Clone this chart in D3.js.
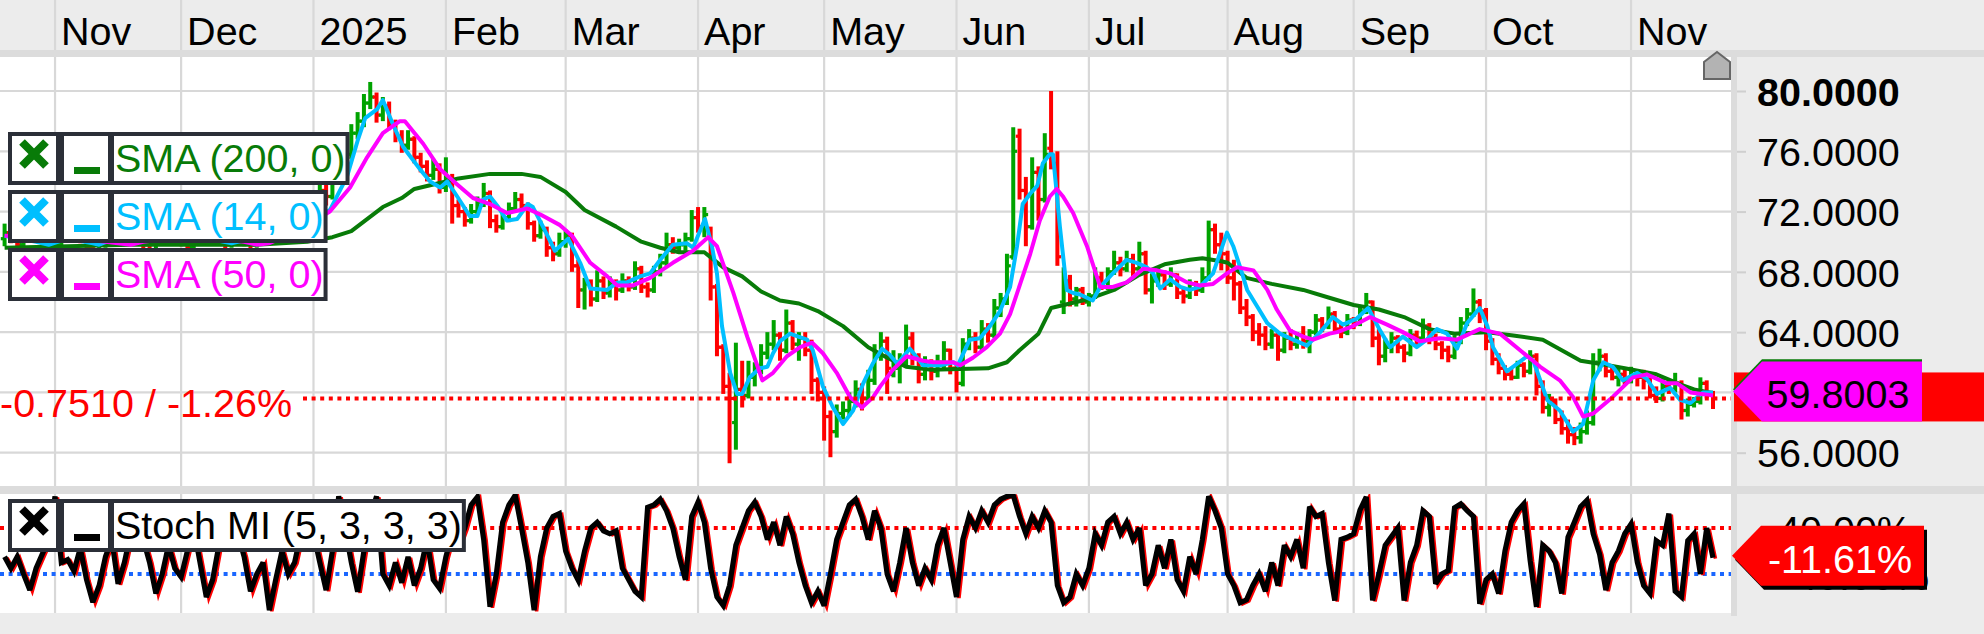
<!DOCTYPE html>
<html><head><meta charset="utf-8">
<script src="https://cdn.jsdelivr.net/npm/d3@7/dist/d3.min.js"></script>
<style>
html,body{margin:0;padding:0;background:#ececec;overflow:hidden;}
svg{display:block;font-family:"Liberation Sans",Arial,Helvetica,sans-serif;}
</style></head><body>
<svg id="c" width="1984" height="634"></svg>
<script>
// ---------- data ----------
const monthLabels = ["Nov","Dec","2025","Feb","Mar","Apr","May","Jun","Jul","Aug","Sep","Oct","Nov"];
const monthIndex  = [8,28,49,70,89,110,130,151,172,194,214,235,258];
const priceGrid   = [80,76,72,68,64,60,56];
const priceTicks  = [80,76,72,68,64,56];
const stochTicks  = [40,-40];
const stochTickLabels = ["40.00%","-40.00%"];

const open = [
70.2,70.6,70.2,69.8,70.4,71.0,70.6,70.0,69.4,69.8,
70.6,71.2,70.8,70.2,69.6,69.2,69.8,70.4,70.0,70.8,
71.4,71.0,70.4,69.8,69.4,70.0,70.6,71.2,70.6,70.0,
69.6,70.2,70.8,71.4,71.0,70.4,69.8,70.2,70.6,70.0,
69.8,70.4,71.0,70.6,70.2,70.6,70.8,71.2,71.0,72.0,
72.8,73.4,73.0,74.2,75.0,75.8,77.2,78.0,79.2,79.6,
78.4,79.0,77.8,77.0,76.4,76.8,75.6,75.0,74.4,74.8,
73.6,74.2,72.4,72.0,71.4,72.0,72.6,73.2,71.4,71.0,
71.6,72.2,72.8,72.4,71.2,70.4,70.8,69.6,69.2,70.0,
70.4,68.4,66.8,67.2,66.2,67.4,66.6,67.2,66.8,67.4,
67.0,68.2,67.0,66.8,68.0,68.6,69.8,69.6,69.8,70.2,
71.6,71.0,70.8,67.0,63.0,60.4,58.0,60.2,59.8,61.0,
61.4,62.6,63.2,63.8,62.8,64.6,63.2,63.6,62.8,60.8,
60.0,58.4,57.4,58.6,58.8,59.4,60.2,59.6,60.8,62.4,
63.4,61.2,61.6,62.0,63.6,62.4,61.2,61.8,61.4,62.0,
62.8,61.6,60.6,63.2,63.6,63.0,64.2,63.8,65.6,66.2,
69.0,77.0,73.4,71.0,74.6,72.8,76.2,75.2,66.0,67.4,
66.2,66.8,66.0,66.4,67.6,67.0,68.0,68.6,68.2,68.8,
68.2,69.2,66.8,67.4,67.8,67.2,67.8,66.6,66.4,67.2,
66.8,67.6,70.8,69.8,69.2,67.6,67.2,65.6,65.0,64.0,
63.8,63.2,63.8,62.8,63.6,63.2,63.8,63.4,64.0,64.8,
64.4,65.2,64.2,64.0,64.8,64.6,65.4,66.0,63.6,62.4,
63.0,63.6,63.0,62.6,63.8,63.6,64.4,63.6,63.2,62.8,
62.4,63.4,64.6,65.2,66.0,65.4,63.4,62.2,61.6,61.2,
61.0,61.8,61.4,62.4,60.4,59.0,59.4,58.2,57.6,57.2,
57.0,57.4,58.0,62.0,62.4,61.4,61.0,61.2,60.8,61.2,
61.0,60.8,59.8,59.6,60.4,60.2,60.6,58.8,59.2,59.4,60.6,60.0];

const high = [
71.2,70.9,70.5,70.7,71.4,71.3,70.9,70.3,70.2,70.9,
71.6,71.4,71.0,70.5,69.9,70.1,70.7,70.6,71.1,71.8,
71.6,71.2,70.6,70.1,70.3,70.9,71.6,71.4,70.8,70.2,
70.5,71.1,71.8,71.6,71.2,70.6,70.5,70.9,70.8,70.2,
70.7,71.3,71.2,70.8,70.9,71.1,71.6,71.5,72.4,73.4,
74.0,73.8,74.8,75.6,76.4,77.8,78.6,79.8,80.6,79.9,
79.6,79.3,78.1,77.4,77.4,77.0,75.9,75.4,75.5,75.2,
75.6,74.5,72.8,72.3,72.5,73.0,73.9,73.4,71.8,72.0,
72.6,73.3,73.2,72.6,71.4,71.4,71.0,70.0,70.6,70.8,
70.6,68.8,67.6,67.5,68.1,67.7,67.7,67.5,67.9,67.7,
68.7,68.4,67.3,68.4,69.2,70.6,70.3,70.2,70.6,72.1,
72.3,72.3,71.0,67.2,63.2,61.3,63.3,62.1,62.1,62.0,
63.2,64.0,64.8,64.0,65.5,64.8,64.0,64.0,63.5,61.0,
60.4,58.8,59.2,59.4,60.0,60.8,60.6,61.5,63.2,64.0,
63.7,62.8,62.6,64.5,64.0,62.6,62.4,62.2,62.5,63.4,
62.9,61.8,63.6,64.2,64.0,64.8,64.6,66.2,66.6,69.2,
77.6,77.5,74.3,75.6,75.0,77.2,80.0,76.0,68.3,67.8,
67.0,67.0,66.6,68.3,68.0,68.3,69.4,69.0,69.4,69.2,
70.0,69.4,67.9,68.3,68.1,68.3,67.9,67.0,67.5,67.4,
68.3,71.4,71.2,70.6,69.4,68.8,67.4,66.2,65.2,64.6,
64.4,64.2,64.0,64.0,64.2,64.0,64.4,64.2,65.2,65.0,
65.7,65.4,64.6,65.2,65.0,65.8,66.6,66.1,64.2,63.6,
64.0,63.8,63.2,64.2,64.1,64.9,64.6,63.9,63.4,63.1,
63.8,65.0,65.6,66.9,66.2,65.6,63.6,62.6,61.8,61.6,
62.1,62.0,62.8,62.6,60.8,59.9,59.6,58.8,58.2,57.7,
58.0,58.8,62.6,62.9,62.6,61.8,61.7,61.5,61.7,61.5,
61.5,61.0,60.4,61.0,60.8,61.3,60.8,59.6,59.7,61.0,60.8,60.1];

const low = [
69.7,69.9,69.4,69.6,70.1,70.3,69.7,69.1,69.2,69.6,
70.4,70.5,69.9,69.3,68.8,69.0,69.6,69.7,69.8,70.6,
70.7,70.1,69.5,69.1,69.2,69.8,70.4,70.3,69.7,69.3,
69.4,70.0,70.6,70.7,70.1,69.5,69.6,70.0,69.7,69.5,
69.6,70.2,70.3,69.9,70.0,70.3,70.6,70.7,70.8,71.8,
72.5,72.4,72.8,73.9,74.6,75.5,76.8,77.6,78.8,77.9,
78.0,77.4,76.6,75.9,76.1,75.2,74.6,74.0,74.1,73.2,
73.3,71.2,71.6,71.0,71.2,71.8,72.3,70.9,70.6,70.8,
71.3,72.0,72.0,70.8,70.0,70.2,69.0,68.7,69.0,69.6,
68.0,65.6,65.5,65.7,66.0,66.2,66.3,66.1,66.6,66.7,
66.8,66.6,66.3,66.6,67.7,68.4,69.2,69.3,69.4,70.0,
70.6,70.3,66.1,62.4,59.9,55.3,56.2,59.0,59.6,60.4,
61.2,62.2,62.8,62.1,62.6,62.8,62.1,62.4,59.9,59.4,
56.8,55.7,57.0,58.2,58.4,59.0,58.8,59.4,60.5,62.1,
59.9,61.0,60.6,61.8,61.8,60.6,60.8,60.8,61.0,61.6,
61.2,60.0,60.4,62.8,62.6,62.8,63.3,63.6,65.0,65.8,
68.8,72.8,69.7,70.8,71.4,72.6,74.8,68.4,65.2,65.7,
65.7,65.8,65.7,66.2,66.8,66.8,67.8,67.7,68.0,67.7,
68.0,66.5,65.9,67.0,66.8,67.0,66.2,65.9,66.2,66.4,
66.6,67.4,69.2,68.1,67.2,66.1,65.2,64.4,63.4,63.1,
62.8,62.9,62.1,62.6,62.8,62.9,62.9,62.6,63.8,64.0,
64.2,63.9,63.6,63.8,64.2,64.4,65.2,63.0,61.8,62.0,
62.6,62.6,62.0,62.4,63.1,63.4,63.2,62.8,62.2,62.0,
62.2,63.2,64.4,65.0,64.6,62.8,61.8,61.2,60.8,60.8,
60.9,61.0,61.2,59.8,58.6,58.4,57.9,57.2,56.6,56.5,
56.6,57.2,57.8,61.4,61.0,60.8,60.4,60.5,60.6,60.4,
60.2,59.6,59.3,59.4,59.9,60.0,58.2,58.4,59.0,59.2,59.6,58.9];

const close = [
70.6,70.2,69.8,70.4,71.0,70.6,70.0,69.4,69.8,70.6,
71.2,70.8,70.2,69.6,69.2,69.8,70.4,70.0,70.8,71.4,
71.0,70.4,69.8,69.4,70.0,70.6,71.2,70.6,70.0,69.6,
70.2,70.8,71.4,71.0,70.4,69.8,70.2,70.6,70.0,69.8,
70.4,71.0,70.6,70.2,70.6,70.8,71.2,71.0,72.0,72.8,
73.4,73.0,74.2,75.0,75.8,77.2,78.0,79.2,79.6,78.4,
79.0,77.8,77.0,76.4,76.8,75.6,75.0,74.4,74.8,73.6,
74.2,72.4,72.0,71.4,72.0,72.6,73.2,71.4,71.0,71.6,
72.2,72.8,72.4,71.2,70.4,70.8,69.6,69.2,70.0,70.4,
68.4,66.8,67.2,66.2,67.4,66.6,67.2,66.8,67.4,67.0,
68.2,67.0,66.8,68.0,68.6,69.8,69.6,69.8,70.2,71.6,
71.0,71.8,67.0,63.0,60.4,59.6,60.2,59.8,61.0,61.4,
62.6,63.2,63.8,62.8,64.6,63.2,63.6,62.8,60.8,60.0,
58.4,57.4,58.6,58.8,59.4,60.2,59.6,60.8,62.4,63.4,
61.6,61.6,62.0,63.6,62.4,61.2,61.8,61.4,62.0,62.8,
61.6,60.6,63.2,63.6,63.0,64.2,63.8,65.6,66.2,68.4,
76.0,73.4,71.0,74.6,72.8,75.8,75.2,69.0,67.4,66.2,
66.8,66.0,66.4,67.6,67.0,68.0,68.6,68.2,68.8,68.2,
69.2,66.8,67.4,67.8,67.2,67.8,66.6,66.4,67.2,66.8,
67.6,70.8,69.8,69.2,67.6,67.2,65.6,65.0,64.0,63.8,
63.2,63.8,62.8,63.6,63.2,63.8,63.4,64.0,64.8,64.4,
65.2,64.2,64.0,64.8,64.6,65.4,66.0,63.6,62.4,63.0,
63.6,63.0,62.6,63.8,63.6,64.4,63.6,63.2,62.8,62.4,
63.4,64.6,65.2,66.0,65.4,63.4,62.2,61.6,61.2,61.0,
61.8,61.4,62.4,60.4,59.0,59.4,58.2,57.6,57.2,57.0,
57.4,58.0,62.0,62.4,61.4,61.0,61.2,60.8,61.2,61.0,
60.8,59.8,59.6,60.4,60.2,60.6,58.8,59.2,59.4,60.6,60.0,59.6];

// moving averages: [bar index, value]
const sma200 = [[0,69.6],[10,69.7],[20,69.8],[30,69.8],[40,69.8],[48,70.0],[52,70.3],[55,70.7],[60,72.3],[63,72.9],[65,73.5],[69,73.9],[72,74.2],[77,74.5],[82,74.5],[85,74.3],[89,73.3],[92,72.1],[97,71.0],[101,70.0],[104,69.6],[107,69.3],[111,69.3],[114,68.3],[117,67.7],[120,66.7],[123,66.1],[126,65.9],[129,65.4],[133,64.4],[137,63.0],[140,62.3],[143,61.7],[147,61.5],[156,61.6],[159,62.0],[161,62.8],[164,63.9],[166,65.6],[169,65.9],[172,66.2],[176,66.8],[180,67.8],[184,68.5],[188,68.8],[190,68.9],[193,68.7],[194,68.6],[197,67.6],[201,67.2],[206,66.8],[210,66.3],[214,65.8],[218,65.5],[222,65.0],[226,64.2],[230,63.9],[235,64.0],[239,63.8],[244,63.5],[247,62.8],[250,62.1],[253,61.9],[257,61.6],[262,61.2],[266,60.5],[268,60.2],[271,59.95]];
const sma14 = [[0,70.4],[5,70.0],[7,69.8],[10,70.2],[14,69.9],[15,69.8],[18,70.3],[24,70.6],[30,70.4],[36,69.9],[38,70.1],[44,70.6],[48,71.2],[51.6,72.1],[54.3,74.3],[56,76.7],[57.2,78.2],[59.1,78.8],[60,79.4],[61.5,77.9],[63.2,76.3],[65.9,74.8],[67.5,74.0],[69.1,73.6],[70.2,74.0],[71.8,73.0],[73.8,71.7],[75,71.7],[75.9,72.8],[77,73.0],[78.3,72.3],[79.7,71.4],[81.3,71.5],[83,72.5],[83.8,72.3],[85.4,71.0],[87.3,69.4],[89.4,70.2],[91.3,68.6],[92.9,66.9],[95.6,66.8],[97.2,67.3],[98.7,67.3],[100.8,67.7],[102.4,67.9],[104,68.8],[106,69.8],[108.2,69.9],[109.2,69.6],[111.1,71.5],[112.2,69.7],[113,67.9],[113.8,64.4],[115.1,61.3],[116.2,59.9],[117,59.9],[118.2,61.0],[119.8,61.6],[121,61.7],[121.9,62.6],[123,63.4],[124.6,63.9],[125.9,63.7],[127.3,63.5],[128.2,62.8],[129.8,60.4],[131.4,59.0],[133,57.9],[134.6,58.8],[136.2,60.6],[137.7,61.9],[139.2,62.9],[140.4,62.5],[141.6,61.9],[143.6,62.9],[145.7,61.8],[148.4,61.8],[150.5,62.0],[151.2,61.8],[153.1,63.5],[154.7,63.6],[156.3,64.4],[157.9,65.4],[159.5,67.0],[160.6,69.7],[161.5,72.5],[162.7,73.2],[163.8,73.7],[164.7,75.2],[165.8,75.8],[166.3,75.8],[167.4,71.0],[168.5,66.8],[169.5,66.6],[170.6,66.5],[172.6,66.1],[173.8,67.0],[175.8,67.9],[178,68.8],[179.6,68.6],[181.2,68.3],[182.2,67.9],[183.3,66.9],[184.9,67.5],[186.5,67.0],[188,66.8],[189.6,67.0],[191.7,67.9],[193.9,70.6],[194.9,69.7],[196,68.3],[197.1,66.8],[198.7,65.7],[200.3,64.6],[202.3,63.9],[204.4,63.5],[205.5,63.3],[206.6,63.1],[208.7,64.0],[210.7,65.0],[212.3,64.5],[214.5,64.9],[216.3,65.6],[218.2,64.1],[219.8,63.0],[221.8,63.7],[224,63.0],[225.6,63.5],[227.2,64.2],[228.8,63.9],[230.4,62.9],[232,64.6],[234,65.6],[235.2,64.4],[236.1,63.0],[238.3,61.4],[239.9,61.9],[241.5,62.4],[242.5,62.1],[244.7,59.5],[246.7,58.8],[248.8,57.4],[250.4,57.9],[252,60.8],[253.6,62.0],[255.1,61.7],[256.7,60.8],[259,61.3],[260.5,60.9],[262.1,59.9],[264.2,60.3],[265.8,59.5],[267.4,59.3],[269.4,60.0],[271,60.0]];
const sma50 = [[0,70.4],[10,70.3],[18,69.9],[20,69.8],[22,70.0],[30,70.4],[38,70.0],[40,69.8],[42,69.9],[46,70.6],[51.6,72.0],[54.8,73.6],[57.5,75.6],[60,77.2],[62.7,78.0],[63.5,78.0],[66.4,76.5],[69.1,74.8],[71.8,73.8],[74.3,72.9],[77,72.5],[79.7,71.9],[82.9,72.2],[85,71.8],[88.1,71.1],[90,70.4],[92.9,68.6],[95.6,67.7],[97.2,67.1],[99.7,67.1],[102.4,67.6],[106,68.6],[109.2,69.4],[111.6,70.3],[113,69.7],[115.6,66.6],[117.8,63.7],[120.2,60.8],[121.9,61.3],[124.1,62.4],[126.2,63.0],[128.1,63.3],[129.8,62.6],[132,61.3],[134.1,59.7],[136,59.0],[137.8,59.7],[138.9,60.4],[140.9,61.5],[143.1,62.4],[145.7,62.1],[147.3,62.0],[150.5,62.0],[151.6,61.8],[153.6,62.3],[155.8,63.0],[157.9,63.9],[159.5,65.2],[161.1,67.2],[162.7,69.2],[164.2,71.4],[165.8,73.0],[166.9,73.5],[167.9,73.0],[169.5,71.9],[171.7,69.7],[173.8,67.0],[175.8,67.0],[178,67.3],[180.6,68.2],[182.8,68.1],[184.9,67.9],[187.6,67.3],[189.6,67.1],[191.7,67.2],[193.9,67.9],[195.5,68.3],[198.1,68.1],[200.3,66.8],[201.8,65.5],[203.9,64.1],[206,63.7],[207.6,63.5],[210.2,63.9],[211.4,64.0],[213.9,64.4],[216.6,65.0],[219.3,64.5],[221.8,64.0],[224.5,63.4],[227.7,63.6],[230.4,63.5],[234,64.2],[237.2,63.9],[240.4,62.8],[243.6,61.7],[246.7,60.8],[248.8,59.7],[250.4,58.4],[252,58.6],[255.1,59.7],[258.3,61.0],[260.5,61.2],[263.7,60.6],[265.3,60.6],[267.4,60.0],[271,59.8]];

// Stochastic Momentum Index (%), one value per bar
const stoch = [
-10,-30,-10,-40,-68,-30,-5,20,95,-20,
-15,-35,5,-50,-89,-60,-10,20,-57,-20,
30,50,20,-20,-74,-40,10,-30,-45,0,
40,-20,-80,-50,10,40,60,30,-10,-70,
-40,-20,-103,-50,0,-40,-20,30,60,30,
-20,-68,0,95,40,-20,-71,0,60,95,
-40,-60,-20,-55,-10,-60,-30,20,-50,-65,
-10,30,10,40,80,94,20,-97,-40,50,
80,97,40,-20,-103,-10,40,60,65,0,
-30,-51,0,40,50,35,30,35,-30,-50,
-70,-80,76,80,90,70,40,-10,-50,60,
85,50,-30,-80,-95,-60,10,40,70,85,
60,20,50,10,60,30,-20,-60,-90,-70,
-95,-40,20,50,80,90,60,20,70,40,
-40,-70,-20,40,-20,-60,-30,-50,10,40,
-20,-80,20,60,40,70,50,80,90,95,
97,60,30,60,40,70,50,-60,-90,-80,
-40,-60,-30,30,10,50,60,30,50,20,
40,-60,-40,10,-30,20,-50,-70,-10,-40,
20,95,70,40,-40,-60,-90,-85,-60,-40,
-70,-20,-60,10,-10,20,-30,77,60,65,
-20,-86,20,24,30,71,94,-86,-40,10,
25,40,-86,-20,10,70,60,-57,-40,-34,
75,82,70,60,-92,-50,-40,-74,0,50,
70,82,-17,-97,10,0,-20,-74,24,50,
77,88,30,-5,-68,-20,0,30,47,-20,
-60,-74,18,10,65,-70,-80,18,30,-40,40,-11.6];

const lastClose   = 59.6;
const changeText  = "-0.7510 / -1.26%";
const smaLabelVal = 59.8003;
const smaLabelTxt = "59.8003";
const stochLast   = -11.61;
const stochLastTxt = "-11.61%";

// ---------- layout ----------
const W = 1984, H = 634, PR = 1731;
const MAIN_T = 57, MAIN_B = 486, ST_T = 494, ST_B = 613;
const FS = 39.5;
const GREEN = "#00a300", RED = "#ff0000", C200 = "#087b08", C14 = "#00bfff", C50 = "#ff00ff";

const svg = d3.select("#c");
const x  = d3.scaleLinear().domain([0, 271]).range([4.6, 1713]);
const y  = d3.scaleLinear().domain([56, 80]).range([452.7, 91]);
const ys = d3.scaleLinear().domain([-100, 100]).range([608.5, 493.5]);

const defs = svg.append("defs");
defs.append("clipPath").attr("id","clipMain").append("rect").attr("x",0).attr("y",MAIN_T).attr("width",PR).attr("height",MAIN_B-MAIN_T);
defs.append("clipPath").attr("id","clipSt").append("rect").attr("x",0).attr("y",ST_T).attr("width",PR).attr("height",ST_B-ST_T);

// backgrounds
svg.append("rect").attr("width",W).attr("height",H).attr("fill","#ececec");
svg.append("rect").attr("x",0).attr("y",MAIN_T).attr("width",PR).attr("height",MAIN_B-MAIN_T).attr("fill","#fff");
svg.append("rect").attr("x",0).attr("y",ST_T).attr("width",PR).attr("height",ST_B-ST_T).attr("fill","#fff");

// vertical month grid
svg.append("g").selectAll("line").data(monthIndex).join("line")
  .attr("x1",d=>x(d)).attr("x2",d=>x(d)).attr("y1",0).attr("y2",ST_B)
  .attr("stroke","#d8d8d8").attr("stroke-width",2.2);
// horizontal price grid
svg.append("g").selectAll("line").data(priceGrid).join("line")
  .attr("x1",0).attr("x2",PR).attr("y1",d=>y(d)).attr("y2",d=>y(d))
  .attr("stroke","#d8d8d8").attr("stroke-width",2.2);

// separators
svg.append("rect").attr("x",0).attr("y",50).attr("width",W).attr("height",7).attr("fill","#dcdcdc");
svg.append("rect").attr("x",0).attr("y",MAIN_B).attr("width",W).attr("height",ST_T-MAIN_B).attr("fill","#dcdcdc");
svg.append("rect").attr("x",PR).attr("y",MAIN_T).attr("width",6).attr("height",ST_B-MAIN_T+3).attr("fill","#dcdcdc");

// month labels
svg.append("g").selectAll("text").data(monthIndex).join("text")
  .attr("x",d=>x(d)+6).attr("y",45).attr("font-size",FS).attr("fill","#000")
  .text((d,i)=>monthLabels[i]);

// ---------- price bars ----------
const gMain = svg.append("g").attr("clip-path","url(#clipMain)");
const bars = close.map((c,i)=>({i,o:open[i],h:high[i],l:low[i],c}));
const bg = gMain.append("g").selectAll("g").data(bars).join("g")
  .attr("stroke",d=>d.c>=d.o?GREEN:RED);
bg.append("line").attr("x1",d=>x(d.i)).attr("x2",d=>x(d.i))
  .attr("y1",d=>y(d.h)).attr("y2",d=>y(d.l)).attr("stroke-width",4);
bg.append("line").attr("x1",d=>x(d.i)-3.8).attr("x2",d=>x(d.i))
  .attr("y1",d=>y(d.o)).attr("y2",d=>y(d.o)).attr("stroke-width",3.2);
bg.append("line").attr("x1",d=>x(d.i)).attr("x2",d=>x(d.i)+3.8)
  .attr("y1",d=>y(d.c)).attr("y2",d=>y(d.c)).attr("stroke-width",3.2);

// moving averages
const ln = d3.line().x(d=>x(d[0])).y(d=>y(d[1]));
[[sma200,C200],[sma14,C14],[sma50,C50]].forEach(([s,c])=>{
  gMain.append("path").attr("d",ln(s)).attr("fill","none").attr("stroke",c)
    .attr("stroke-width",4).attr("stroke-linejoin","round");
});

// last price dotted line + change text
svg.append("line").attr("x1",303).attr("x2",PR).attr("y1",y(lastClose)).attr("y2",y(lastClose))
  .attr("stroke",RED).attr("stroke-width",4).attr("stroke-dasharray","4,4.6");
svg.append("text").attr("x",0).attr("y",y(lastClose)+19).attr("font-size",FS).attr("fill",RED).text(changeText);

// ---------- legends ----------
function legend(y0, color, label){
  const g = svg.append("g");
  const outer = g.append("rect").attr("x",8).attr("y",y0).attr("height",53).attr("fill","#2b2f38");
  g.append("rect").attr("x",12).attr("y",y0+4).attr("width",44).attr("height",45).attr("fill","#fff");
  g.append("rect").attr("x",64).attr("y",y0+4).attr("width",44).attr("height",45).attr("fill","#fff");
  const cell = g.append("rect").attr("x",114).attr("y",y0+4).attr("height",45).attr("fill","#fff");
  const t = g.append("text").attr("x",115).attr("y",y0+40).attr("font-size",FS).attr("fill",color).text(label);
  const tw = t.node().getComputedTextLength();
  cell.attr("width",tw+1);
  outer.attr("width",114+tw+5-8);
  const cx = 34, cy = y0+22, r = 12;
  g.append("path").attr("d",`M${cx-r},${cy-r}L${cx+r},${cy+r}M${cx+r},${cy-r}L${cx-r},${cy+r}`)
    .attr("stroke",color).attr("stroke-width",8).attr("fill","none");
  g.append("rect").attr("x",74).attr("y",y0+35).attr("width",26).attr("height",7).attr("fill",color);
}
legend(132, C200, "SMA (200, 0)");
legend(190, C14,  "SMA (14, 0)");
legend(248, C50,  "SMA (50, 0)");

// ---------- stochastic panel ----------
const gSt = svg.append("g").attr("clip-path","url(#clipSt)");
gSt.append("line").attr("x1",0).attr("x2",PR).attr("y1",ys(40)).attr("y2",ys(40))
  .attr("stroke",RED).attr("stroke-width",4).attr("stroke-dasharray","4,4.6");
gSt.append("line").attr("x1",0).attr("x2",PR).attr("y1",ys(-40)).attr("y2",ys(-40))
  .attr("stroke","#1a66ff").attr("stroke-width",4).attr("stroke-dasharray","4,4.6");
const sl = d3.line().x((d,i)=>x(i)).y(d=>ys(d));
gSt.append("path").attr("d",sl(stoch)).attr("fill","none").attr("stroke",RED)
  .attr("stroke-width",3.5).attr("transform","translate(2.5,1)");
gSt.append("path").attr("d",sl(stoch)).attr("fill","none").attr("stroke","#000")
  .attr("stroke-width",5.2).attr("stroke-linejoin","miter").attr("stroke-miterlimit",3);
legend(499, "#000", "Stoch MI (5, 3, 3, 3)");

// ---------- right axes ----------
const ax = svg.append("g").attr("transform",`translate(1737,0)`)
  .call(d3.axisRight(y).tickValues(priceTicks).tickSize(9).tickPadding(11).tickFormat(d3.format(".4f")));
ax.select(".domain").remove();
ax.selectAll("line").attr("stroke","#cfcfcf").attr("stroke-width",2);
ax.selectAll("text").attr("font-size",FS).attr("fill","#000").attr("dy","0.36em")
  .attr("font-family","'Liberation Sans',Arial,sans-serif")
  .attr("font-weight",d=>d===80?"bold":"normal");

// stochastic axis labels (mostly covered by the value label, as in the source)
svg.append("g").selectAll("text").data(stochTicks).join("text")
  .attr("x",d=>d>0?1778:1782).attr("y",d=>ys(d)+16).attr("font-size",FS).attr("fill","#000")
  .text((d,i)=>stochTickLabels[i]);

// last price label (red) behind moving average labels
const yc = y(lastClose);
svg.append("rect").attr("x",1734).attr("y",yc-26).attr("width",W-1734).attr("height",49).attr("fill",RED);
function penta(cy, x0, x1, half){
  return `M${x0},${cy}L${x0+29},${cy-half}L${x1},${cy-half}L${x1},${cy+half}L${x0+29},${cy+half}Z`;
}
const c200 = y(sma200[sma200.length-1][1]) - 4;
svg.append("path").attr("d",penta(c200,1733,1922,30)).attr("fill",C200);
const c50 = y(smaLabelVal) - 4;
svg.append("path").attr("d",penta(c50,1733,1922,30)).attr("fill",C50);
svg.append("text").attr("x",1838).attr("y",c50+17).attr("text-anchor","middle")
  .attr("font-size",FS).attr("fill","#000").text(smaLabelTxt);

// stochastic last value label
const cs = ys(stochLast) - 2;
svg.append("path").attr("d",penta(cs,1732,1924,30)).attr("fill","#000").attr("transform","translate(3,4)");
svg.append("path").attr("d",penta(cs,1732,1924,30)).attr("fill",RED);
svg.append("text").attr("x",1840).attr("y",cs+17).attr("text-anchor","middle")
  .attr("font-size",FS).attr("fill","#fff").text(stochLastTxt);

// scroll-to-top marker
svg.append("path").attr("d","M1704,79L1704,62L1717,52L1730,62L1730,79Z")
  .attr("fill","#b3b3b3").attr("stroke","#666").attr("stroke-width",2);
</script>
</body></html>
